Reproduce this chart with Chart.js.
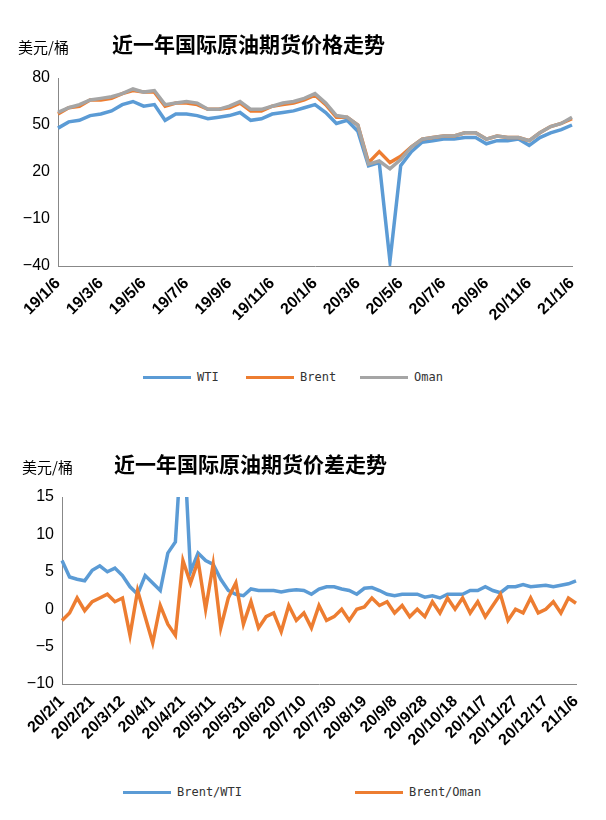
<!DOCTYPE html>
<html>
<head>
<meta charset="utf-8">
<script src="https://cdn.jsdelivr.net/npm/chart.js@4"></script>
<style>
  body { margin: 0; background: #fff; font-family: "Liberation Sans", Arial, sans-serif; }
  .box { position: absolute; left: 0; width: 606px; }
  .title { position: absolute; font-weight: bold; font-size: 21px; color: #000; font-family: "Noto Sans CJK SC", sans-serif; }
  .unit { position: absolute; font-size: 15px; color: #000; font-family: "Noto Sans CJK SC", sans-serif; }
  .leg { position: absolute; font-family: "DejaVu Sans Mono", monospace; font-size: 12px; color: #333; white-space: nowrap; }
  .leg span.ln { display: inline-block; width: 48px; height: 3px; vertical-align: middle; margin-right: 6px; }
</style>
</head>
<body>
<div class="box" style="top:0;height:340px"><canvas id="priceChart" width="606" height="340"></canvas></div>
<div class="box" style="top:415px;height:345px"><canvas id="spreadChart" width="606" height="345"></canvas></div>
<div class="unit" style="left:18px;top:36px">美元/桶</div>
<div class="title" style="left:112px;top:28px">近一年国际原油期货价格走势</div>
<div class="unit" style="left:22px;top:456px">美元/桶</div>
<div class="title" style="left:114px;top:448px">近一年国际原油期货价差走势</div>
<div id="legendTop"></div>
<div id="legendBottom"></div>
<script>
// ============================
// DATA: PRICES
// ============================

const priceDates = [
    "19/1/6", "19/1/21", "19/2/6", "19/2/21", "19/3/6", "19/3/21", "19/4/6", "19/4/21",
    "19/5/6", "19/5/21", "19/6/6", "19/6/21", "19/7/6", "19/7/21", "19/8/6", "19/8/21",
    "19/9/6", "19/9/21", "19/10/6", "19/10/21", "19/11/6", "19/11/21", "19/12/6", "19/12/21",
    "20/1/6", "20/1/21", "20/2/6", "20/2/21", "20/3/6", "20/3/21", "20/4/6", "20/4/21",
    "20/5/6", "20/5/21", "20/6/6", "20/6/21", "20/7/6", "20/7/21", "20/8/6", "20/8/21",
    "20/9/6", "20/9/21", "20/10/6", "20/10/21", "20/11/6", "20/11/21", "20/12/6", "20/12/21",
    "21/1/6"
];

const wti = [48, 52, 53, 56, 57, 59, 63, 65, 62, 63, 53, 57, 57, 56, 54, 55,
    56, 58, 53, 54, 57, 58, 59, 61, 63, 58, 51, 53, 46, 24, 26, -37,
    24, 33, 39, 40, 41, 41, 42, 42, 38, 40, 40, 41, 37, 42, 45, 47, 50];

const brent = [57, 61, 62, 66, 66, 67, 70, 72, 71, 71, 62, 64, 64, 63, 60, 60,
    61, 64, 59, 59, 62, 63, 64, 66, 69, 63, 55, 55, 50, 26, 33, 26,
    30, 36, 41, 42, 43, 43, 45, 45, 41, 43, 42, 42, 40, 45, 49, 51, 54];

const oman = [58, 61, 63, 66, 67, 68, 70, 73, 71, 72, 63, 64, 65, 64, 60, 60,
    62, 65, 60, 60, 62, 64, 65, 67, 70, 64, 56, 55, 50, 25, 27, 22,
    28, 36, 41, 42, 43, 43, 45, 45, 41, 43, 42, 42, 40, 45, 49, 51, 55];

// ============================
// DATA: SPREADS (every 5 days from 20/2/1)
// ============================

const spreadTickLabels = [
    "20/2/1", "20/2/21", "20/3/12", "20/4/1", "20/4/21", "20/5/11", "20/5/31", "20/6/20",
    "20/7/10", "20/7/30", "20/8/19", "20/9/8", "20/9/28", "20/10/18", "20/11/7", "20/11/27",
    "20/12/17", "21/1/6"
];

const brentWti = [
    6.5, 4.3, 4.0, 3.8,  5.2, 5.8, 5.0, 5.5,  4.5, 3.0, 2.0, 4.5,  3.5, 2.5, 7.5, 9.0,
    25, 5.0, 7.5, 6.5,  6.0, 4.0, 2.5, 2.0,  1.8, 2.7, 2.5, 2.5,  2.5, 2.3, 2.5, 2.6,
    2.5, 2.0, 2.7, 3.0,  3.0, 2.7, 2.5, 2.0,  2.8, 2.9, 2.5, 2.0,  1.8, 2.0, 2.0, 2.0,
    1.6, 1.8, 1.5, 2.0,  2.0, 2.0, 2.5, 2.5,  3.0, 2.5, 2.2, 3.0,  3.0, 3.3, 3.0, 3.1,
    3.2, 3.0, 3.2, 3.4,  3.8
];

const brentOman = [
    -1.5, -0.5, 1.5, -0.2,  1.0, 1.5, 2.0, 1.0,  1.5, -3.5, 2.5, -1.0,  -4.5, 0.5, -2.0, -3.5,
    6.5, 3.5, 6.5, 0.0,  6.0, -2.5, 1.5, 3.5,  -2.0, 1.0, -2.5, -1.0,  -0.5, -3.0, 0.5, -1.5,
    -0.5, -2.5, 0.5, -1.5,  -1.0, 0.0, -1.5, 0.0,  0.3, 1.5, 0.5, 1.0,  -0.5, 0.5, -1.0, 0.0,
    -1.0, 1.0, -0.5, 1.5,  0.0, 1.5, -0.5, 1.0,  -1.0, 0.5, 2.0, -1.5,  0.0, -0.5, 1.5, -0.5,
    0.0, 1.0, -0.5, 1.5,  0.8
];

const spreadDates = brentWti.map((v, i) => i % 4 === 0 ? spreadTickLabels[i / 4] : "");

const BLUE = "#5B9BD5", ORANGE = "#ED7D31", GRAY = "#A5A5A5";

// ============================
// COMMON OPTIONS
// ============================

function makeOptions(yMin, yMax, step, padTop, padRight, yWidth, xHeight) {
    return {
        responsive: false,
        animation: false,
        layout: { padding: { top: padTop, right: padRight, left: 0, bottom: 0 } },
        plugins: {
            legend: { display: false },
            tooltip: { enabled: false }
        },
        scales: {
            x: {
                afterFit: scale => { scale.height = xHeight; },
                ticks: {
                    autoSkip: false,
                    maxRotation: 45,
                    minRotation: 45,
                    color: "#000",
                    font: { family: "Liberation Sans", size: 16, weight: "bold" },
                    callback: function (value, index) {
                        return index % 4 === 0 ? this.getLabelForValue(value) : null;
                    }
                },
                grid: { display: false, drawTicks: true, tickLength: 5, color: "#888" },
                border: { color: "#888" }
            },
            y: {
                min: yMin,
                max: yMax,
                afterFit: scale => { scale.width = yWidth; },
                ticks: {
                    stepSize: step,
                    color: "#000",
                    padding: 8,
                    font: { family: "Liberation Sans", size: 16 },
                    callback: v => String(v).replace("-", "\u2212")
                },
                grid: { display: false, drawTicks: false },
                border: { color: "#888" }
            }
        }
    };
}

function line(label, data, color, order) {
    return {
        label: label,
        data: data,
        borderColor: color,
        backgroundColor: color,
        borderWidth: 3.5,
        pointRadius: 0,
        tension: 0,
        order: order
    };
}

const priceSets = [
    line("WTI", wti, BLUE, 3),
    line("Brent", brent, ORANGE, 2),
    line("Oman", oman, GRAY, 1)
];

new Chart(document.getElementById("priceChart"), {
    type: "line",
    data: { labels: priceDates, datasets: priceSets },
    options: makeOptions(-40, 80, 30, 78, 34, 58, 74)
});

const spreadSets = [
    line("Brent/WTI", brentWti, BLUE, 2),
    line("Brent/Oman", brentOman, ORANGE, 1)
];

new Chart(document.getElementById("spreadChart"), {
    type: "line",
    data: { labels: spreadDates, datasets: spreadSets },
    options: makeOptions(-10, 15, 5, 82, 30, 62, 76)
});

// ============================
// LEGENDS
// ============================

function legend(id, sets, lefts, top) {
    const el = document.getElementById(id);
    sets.forEach((ds, i) => {
        const d = document.createElement("div");
        d.className = "leg";
        d.style.left = lefts[i] + "px";
        d.style.top = top + "px";
        d.innerHTML = `<span class="ln" style="background:${ds.borderColor}"></span>${ds.label}`;
        el.appendChild(d);
    });
}

legend("legendTop", priceSets, [143, 246, 360], 370);
legend("legendBottom", spreadSets, [123, 355], 785);
</script>
</body>
</html>
